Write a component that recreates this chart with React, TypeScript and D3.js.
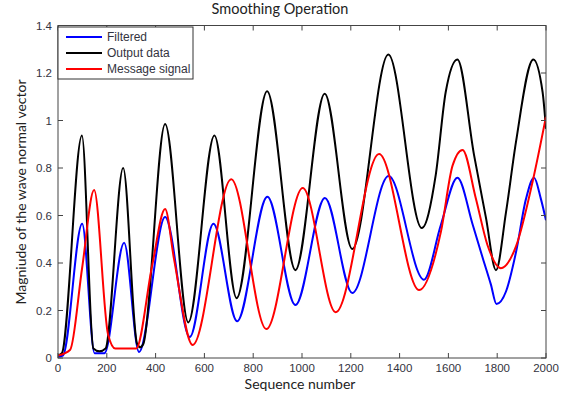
import React from "react";
import * as d3 from "d3";

const title = "Smoothing Operation";
const xLabel = "Sequence number";
const yLabel = "Magniude of the wave normal vector";
const xTicks = [0, 200, 400, 600, 800, 1000, 1200, 1400, 1600, 1800, 2000];
const yTicks = [0, 0.2, 0.4, 0.6, 0.8, 1, 1.2, 1.4];

const filteredX = [0, 20, 99, 150, 190, 271, 332, 439, 540, 637, 734, 858, 973, 1094, 1206, 1355, 1500, 1569, 1637, 1700, 1741, 1774, 1797, 1836, 1877, 1918, 1951, 1979, 2000];
const filteredY = [0.005, 0.01, 0.565, 0.02, 0.02, 0.485, 0.025, 0.594, 0.088, 0.565, 0.155, 0.679, 0.223, 0.674, 0.274, 0.766, 0.33, 0.56, 0.759, 0.56, 0.42, 0.31, 0.227, 0.28, 0.445, 0.67, 0.759, 0.67, 0.58];

const outputX = [0, 16, 98, 145, 170, 195, 267, 324, 337, 350, 439, 534, 641, 732, 857, 973, 1093, 1206, 1354, 1491, 1548, 1589, 1637, 1705, 1754, 1795, 1836, 1877, 1948, 1986, 2000];
const outputY = [0.01, 0.02, 0.937, 0.04, 0.028, 0.04, 0.8, 0.06, 0.045, 0.06, 0.985, 0.15, 0.937, 0.252, 1.123, 0.37, 1.113, 0.459, 1.278, 0.547, 0.77, 1.12, 1.257, 0.855, 0.59, 0.37, 0.613, 0.91, 1.257, 1.12, 0.965];

const messageX = [0, 50, 99, 148, 205, 235, 320, 386, 439, 475, 552, 710, 854, 1003, 1138, 1316, 1480, 1569, 1617, 1658, 1712, 1760, 1815, 1877, 1945, 2000];
const messageY = [0.01, 0.035, 0.38, 0.707, 0.1, 0.04, 0.04, 0.39, 0.627, 0.42, 0.055, 0.753, 0.122, 0.716, 0.193, 0.859, 0.286, 0.53, 0.81, 0.876, 0.674, 0.476, 0.378, 0.47, 0.742, 1.016];

const seriesNames = ["Filtered", "Output data", "Message signal"];
const seriesColors = ["#0000ff", "#000000", "#ff0000"];

const W = 565;
const H = 395;
const L = 58;
const R = 546;
const T = 25.5;
const B = 358;

export default function App() {
  const x = d3.scaleLinear().domain([0, 2000]).range([L, R]);
  const y = d3.scaleLinear().domain([0, 1.4]).range([B, T]);
  const line = d3
    .line<[number, number]>()
    .x((d) => x(d[0]))
    .y((d) => y(d[1]))
    .curve(d3.curveMonotoneX);

  const series = [
    filteredX.map((v, i) => [v, filteredY[i]] as [number, number]),
    outputX.map((v, i) => [v, outputY[i]] as [number, number]),
    messageX.map((v, i) => [v, messageY[i]] as [number, number]),
  ];

  const tickFont = "'Liberation Sans', Arial, sans-serif";
  const labelFont = "Lato, 'Open Sans', sans-serif";
  const textColor = "#333340";
  const tl = 5;

  return (
    <svg
      width={W}
      height={H}
      style={{ position: "absolute", left: 0, top: 0, background: "#fff" }}
    >
      <rect x={0} y={0} width={W} height={H} fill="#fff" />
      <clipPath id="plot">
        <rect x={L} y={T} width={R - L} height={B - T} />
      </clipPath>
      <g clipPath="url(#plot)">
        {series.map((s, i) => (
          <path
            key={i}
            d={line(s) || ""}
            fill="none"
            stroke={seriesColors[i]}
            strokeWidth={2}
            strokeLinejoin="round"
          />
        ))}
      </g>
      {xTicks.map((t) => (
        <g key={"x" + t}>
          <line x1={x(t)} x2={x(t)} y1={B} y2={B - tl} stroke="#444" />
          <line x1={x(t)} x2={x(t)} y1={T} y2={T + tl} stroke="#444" />
          <text
            x={x(t)}
            y={372}
            textAnchor="middle"
            fontFamily={tickFont}
            fontSize={11.5}
            fill={textColor}
          >
            {t}
          </text>
        </g>
      ))}
      {yTicks.map((t) => (
        <g key={"y" + t}>
          <line x1={L} x2={L + tl} y1={y(t)} y2={y(t)} stroke="#444" />
          <line x1={R} x2={R - tl} y1={y(t)} y2={y(t)} stroke="#444" />
          <text
            x={52}
            y={y(t) + 4}
            textAnchor="end"
            fontFamily={tickFont}
            fontSize={11.5}
            fill={textColor}
          >
            {d3.format("~g")(t)}
          </text>
        </g>
      ))}
      <rect x={L} y={T} width={R - L} height={B - T} fill="none" stroke="#444" strokeWidth={1} />
      <rect x={L} y={27} width={135} height={52} fill="#fff" stroke="#333" strokeWidth={1} />
      {seriesNames.map((n, i) => (
        <g key={n}>
          <line x1={66} x2={102} y1={37 + i * 16} y2={37 + i * 16} stroke={seriesColors[i]} strokeWidth={2} />
          <text x={107} y={41 + i * 16} fontFamily={tickFont} fontSize={12} fill={textColor}>
            {n}
          </text>
        </g>
      ))}
      <text x={280} y={14} textAnchor="middle" fontFamily={labelFont} fontSize={14.5} fill="#222">
        {title}
      </text>
      <text x={300} y={389} textAnchor="middle" fontFamily={labelFont} fontSize={14} fill="#222">
        {xLabel}
      </text>
      <text
        transform={`translate(26, 192) rotate(-90)`}
        textAnchor="middle"
        fontFamily={labelFont}
        fontSize={14}
        fill="#222"
      >
        {yLabel}
      </text>
    </svg>
  );
}
